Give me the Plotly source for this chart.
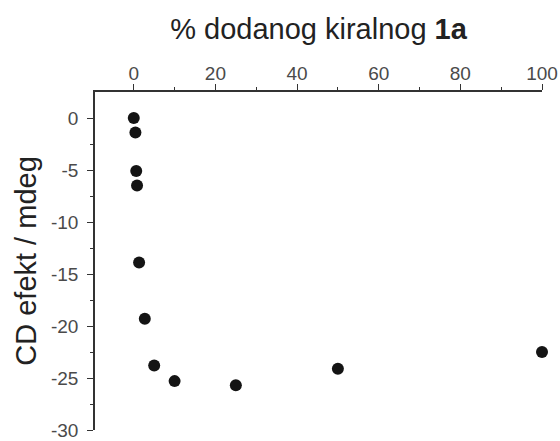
import plotly.graph_objects as go

percent_1a = [0, 0.4, 0.6, 0.8, 1.3, 2.7, 5, 10, 25, 50, 100]
cd_effect = [0, -1.4, -5.1, -6.5, -13.9, -19.3, -23.8, -25.3, -25.7, -24.1, -22.5]

x_ticks = [0, 20, 40, 60, 80, 100]
x_tick_labels = ["0", "20", "40", "60", "80", "100"]
y_ticks = [0, -5, -10, -15, -20, -25, -30]
y_tick_labels = ["0", "-5", "-10", "-15", "-20", "-25", "-30"]

fig = go.Figure()
fig.add_trace(go.Scatter(
    x=percent_1a, y=cd_effect, mode="markers",
    marker=dict(size=12, color="#141414"),
    showlegend=False, cliponaxis=False,
))

fig.update_layout(
    width=560, height=441,
    margin=dict(l=95, r=18, t=92, b=11, autoexpand=False),
    paper_bgcolor="white", plot_bgcolor="white",
    font=dict(family="Liberation Sans, Arial, sans-serif", color="#333"),
    xaxis=dict(
        side="top", range=[-9.5, 100], automargin=False,
        tickvals=x_ticks, ticktext=x_tick_labels,
        ticks="outside", ticklen=6, tickwidth=1, tickcolor="#333",
        minor=dict(tickvals=[10, 30, 50, 70, 90], ticks="outside", ticklen=3, tickcolor="#333"),
        showline=True, linecolor="#333", linewidth=1.5,
        showgrid=False, zeroline=False,
        ticklabelstandoff=-3,
        tickfont=dict(size=19, color="#4a4a4a", family="Liberation Sans, Arial, sans-serif"),
        title=dict(text="% dodanog kiralnog <b>1a</b>", font=dict(size=29, color="#222", family="Liberation Sans, Arial, sans-serif"), standoff=15),
    ),
    yaxis=dict(
        range=[-30, 2.5], automargin=False,
        tickvals=y_ticks, ticktext=y_tick_labels,
        ticks="outside", ticklen=6, tickwidth=1, tickcolor="#333",
        minor=dict(tickvals=[-2.5, -7.5, -12.5, -17.5, -22.5, -27.5], ticks="outside", ticklen=3, tickcolor="#333"),
        showline=True, linecolor="#333", linewidth=1.5,
        showgrid=False, zeroline=False,
        ticklabelstandoff=5, ticklabeloverflow="allow",
        tickfont=dict(size=19, color="#4a4a4a", family="Liberation Sans, Arial, sans-serif"),
        title=dict(text="CD efekt / mdeg", font=dict(size=29, color="#222", family="Liberation Sans, Arial, sans-serif"), standoff=6),
    ),
)

fig.write_html("out.html")
